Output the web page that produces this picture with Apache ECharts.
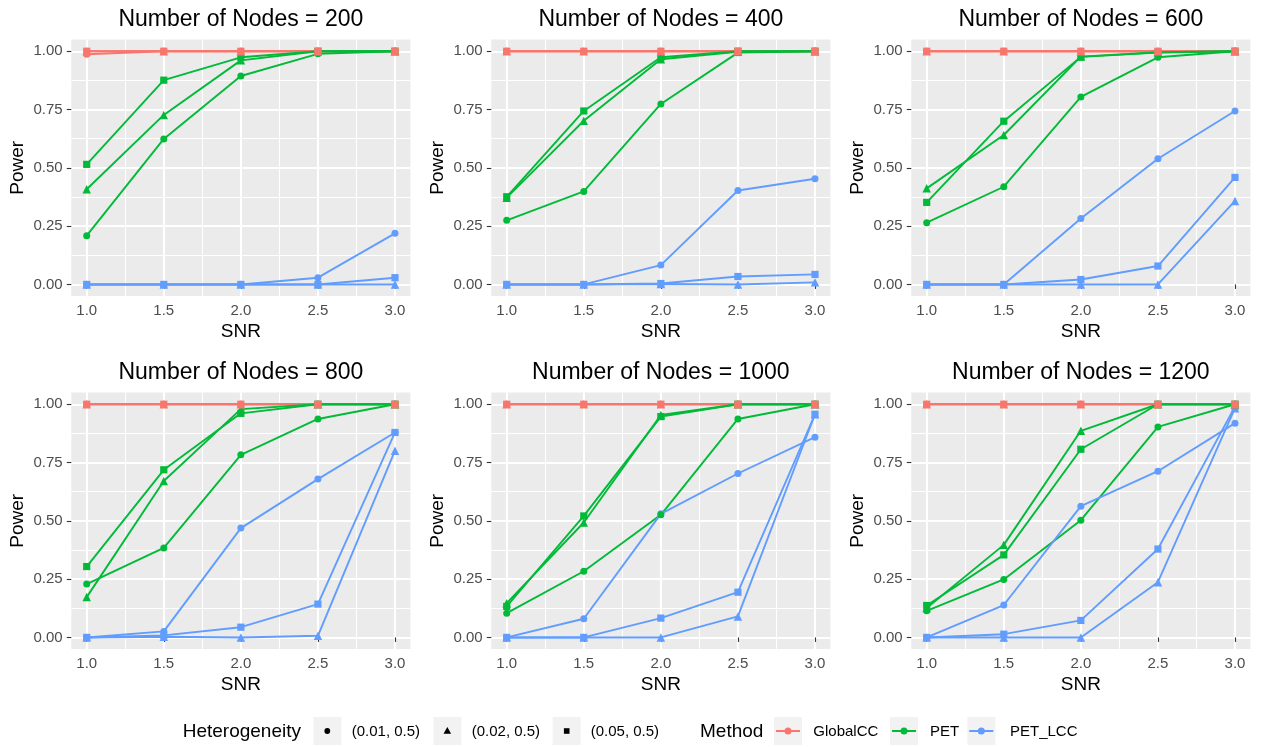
<!DOCTYPE html>
<html>
<head>
<meta charset="utf-8">
<script src="https://cdn.jsdelivr.net/npm/echarts@6/dist/echarts.min.js"></script>
<style>
  html, body { margin: 0; padding: 0; background: #ffffff; }
  #chart { width: 1264px; height: 747px; }
</style>
</head>
<body>
<div id="chart"></div>
<script>
// Simulation results: power of each method against signal-to-noise ratio,
// one panel per network size, one line per heterogeneity setting.
const snr = [1.0, 1.5, 2.0, 2.5, 3.0];
const nodeCounts = [200, 400, 600, 800, 1000, 1200];
const methods = ['GlobalCC', 'PET', 'PET_LCC'];
const heterogeneity = ['(0.01, 0.5)', '(0.02, 0.5)', '(0.05, 0.5)'];
const xTicks = [1.0, 1.5, 2.0, 2.5, 3.0];
const xMinorTicks = [1.25, 1.75, 2.25, 2.75];
const yTicks = [0, 0.25, 0.5, 0.75, 1.0];
const yMinorTicks = [0.125, 0.375, 0.625, 0.875];

// Rows follow the heterogeneity order above; columns follow snr.
const globalCC200 = [[0.987, 1, 1, 1, 1], [1, 1, 1, 1, 1], [1, 1, 1, 1, 1]];
const pet200      = [[0.209, 0.624, 0.894, 0.989, 1], [0.408, 0.727, 0.961, 1, 1], [0.515, 0.876, 0.974, 1, 1]];
const petLcc200   = [[0, 0, 0, 0.029, 0.219], [0, 0, 0, 0, 0], [0, 0, 0, 0, 0.029]];

const globalCC400 = [[1, 1, 1, 1, 1], [1, 1, 1, 1, 1], [1, 1, 1, 1, 1]];
const pet400      = [[0.275, 0.399, 0.774, 0.994, 1], [0.372, 0.702, 0.966, 0.998, 1], [0.376, 0.744, 0.974, 1, 1]];
const petLcc400   = [[0, 0, 0.083, 0.403, 0.453], [0, 0, 0.002, 0, 0.009], [0, 0, 0.004, 0.034, 0.043]];

const globalCC600 = [[1, 1, 1, 1, 1], [1, 1, 1, 1, 1], [1, 1, 1, 1, 1]];
const pet600      = [[0.265, 0.419, 0.804, 0.974, 1], [0.412, 0.641, 0.977, 0.996, 1], [0.352, 0.700, 0.976, 0.994, 1]];
const petLcc600   = [[0, 0, 0.283, 0.539, 0.744], [0, 0, 0, 0, 0.358], [0, 0, 0.021, 0.079, 0.459]];

const globalCC800 = [[1, 1, 1, 1, 1], [1, 1, 1, 1, 1], [1, 1, 1, 1, 1]];
const pet800      = [[0.229, 0.384, 0.783, 0.937, 1], [0.173, 0.671, 0.979, 1, 1], [0.304, 0.719, 0.961, 1, 1]];
const petLcc800   = [[0, 0.026, 0.469, 0.679, 0.879], [0, 0.003, 0, 0.007, 0.801], [0, 0.009, 0.044, 0.143, 0.879]];

const globalCC1000 = [[1, 1, 1, 1, 1], [1, 1, 1, 1, 1], [1, 1, 1, 1, 1]];
const pet1000      = [[0.104, 0.284, 0.526, 0.937, 1], [0.147, 0.493, 0.954, 1, 1], [0.133, 0.521, 0.947, 1, 1]];
const petLcc1000   = [[0, 0.080, 0.530, 0.703, 0.859], [0, 0, 0, 0.090, 0.957], [0, 0, 0.083, 0.194, 0.957]];

const globalCC1200 = [[1, 1, 1, 1, 1], [1, 1, 1, 1, 1], [1, 1, 1, 1, 1]];
const pet1200      = [[0.114, 0.249, 0.503, 0.903, 1], [0.126, 0.397, 0.886, 1, 1], [0.137, 0.354, 0.807, 1, 1]];
const petLcc1200   = [[0, 0.139, 0.563, 0.713, 0.919], [0, 0, 0, 0.237, 0.983], [0, 0.014, 0.073, 0.379, 0.990]];

// Panel order matches nodeCounts; method order matches methods.
const panelData = [
  [globalCC200, pet200, petLcc200],
  [globalCC400, pet400, petLcc400],
  [globalCC600, pet600, petLcc600],
  [globalCC800, pet800, petLcc800],
  [globalCC1000, pet1000, petLcc1000],
  [globalCC1200, pet1200, petLcc1200]
];

// ---- styling ----
const FONT = '"Liberation Sans", Arial, Helvetica, sans-serif';
const methodColors = ['#F8766D', '#00BA38', '#619CFF'];
const shapeSymbols = ['circle', 'triangle', 'rect'];
const shapeSizes = [7, 8.5, 7.2];
const colLeft = [71.3, 491.3, 911.3];
const rowTop = [39.6, 392.6];
const panelW = 339.1;
const panelH = 256.5;

const grids = [], xAxes = [], yAxes = [], series = [], graphics = [];

nodeCounts.forEach((n, p) => {
  const left = colLeft[p % 3];
  const top = rowTop[Math.floor(p / 3)];
  grids.push({
    left, top, width: panelW, height: panelH,
    show: true, backgroundColor: '#EBEBEB', borderWidth: 0,
    containLabel: false, outerBoundsMode: 'none'
  });

  // major x axis
  xAxes.push({
    type: 'value', gridIndex: p, min: 0.9, max: 3.1,
    name: 'SNR', nameLocation: 'middle', nameGap: 26, nameMoveOverlap: false,
    nameTextStyle: { fontFamily: FONT, fontSize: 19, color: '#000000' },
    axisLine: { show: false },
    axisTick: { show: true, length: 4.5, customValues: xTicks, lineStyle: { color: '#333333', width: 1.1 } },
    axisLabel: { show: true, customValues: xTicks, margin: 7, fontFamily: FONT, fontSize: 15, color: '#4D4D4D',
                 formatter: v => Number(v).toFixed(1) },
    splitLine: { show: true, lineStyle: { color: '#FFFFFF', width: 2.1 } }
  });
  // minor x grid
  xAxes.push({
    type: 'value', gridIndex: p, min: 0.9, max: 3.1,
    axisLine: { show: false },
    axisTick: { show: false, customValues: xMinorTicks },
    axisLabel: { show: false },
    splitLine: { show: true, lineStyle: { color: '#FFFFFF', width: 1.05 } }
  });
  // major y axis
  yAxes.push({
    type: 'value', gridIndex: p, min: -0.05, max: 1.05, position: 'left',
    name: 'Power', nameLocation: 'middle', nameGap: 44, nameMoveOverlap: false,
    nameTextStyle: { fontFamily: FONT, fontSize: 19, color: '#000000' },
    axisLine: { show: false },
    axisTick: { show: true, length: 4.5, customValues: yTicks, lineStyle: { color: '#333333', width: 1.1 } },
    axisLabel: { show: true, customValues: yTicks, margin: 8.6, fontFamily: FONT, fontSize: 15, color: '#4D4D4D',
                 formatter: v => Number(v).toFixed(2) },
    splitLine: { show: true, lineStyle: { color: '#FFFFFF', width: 2.1 } }
  });
  // minor y grid
  yAxes.push({
    type: 'value', gridIndex: p, min: -0.05, max: 1.05, position: 'left',
    axisLine: { show: false },
    axisTick: { show: false, customValues: yMinorTicks },
    axisLabel: { show: false },
    splitLine: { show: true, lineStyle: { color: '#FFFFFF', width: 1.05 } }
  });

  // panel strip title
  graphics.push({
    type: 'text', x: left + panelW / 2, y: top - 20, silent: true,
    style: { text: 'Number of Nodes = ' + n, font: '23px ' + FONT, fill: '#000000',
             align: 'center', verticalAlign: 'middle' }
  });

  const xi = 2 * p, yi = 2 * p;
  // connecting lines first, GlobalCC at the bottom
  methods.forEach((m, mi) => {
    panelData[p][mi].forEach((row, h) => {
      series.push({
        type: 'line', name: m + ' ' + heterogeneity[h],
        xAxisIndex: xi, yAxisIndex: yi,
        data: snr.map((s, i) => [s, row[i]]),
        showSymbol: false, symbol: 'none', silent: true, z: 3,
        lineStyle: { color: methodColors[mi], width: 1.9 },
        itemStyle: { color: methodColors[mi] }
      });
    });
  });
  // points on top, GlobalCC last
  [2, 1, 0].forEach(mi => {
    panelData[p][mi].forEach((row, h) => {
      series.push({
        type: 'scatter', name: methods[mi] + ' ' + heterogeneity[h],
        xAxisIndex: xi, yAxisIndex: yi,
        data: snr.map((s, i) => [s, row[i]]),
        symbol: shapeSymbols[h], symbolSize: shapeSizes[h], silent: true,
        z: mi === 0 ? 5 : 4,
        itemStyle: { color: methodColors[mi], opacity: 1 }
      });
    });
  });
});

// ---- legend row ----
const legY = 731;
graphics.push({ type: 'text', x: 182.7, y: legY + 0.5, silent: true,
  style: { text: 'Heterogeneity', font: '19px ' + FONT, fill: '#000000', align: 'left', verticalAlign: 'middle' } });
const shapeKeyX = [313.3, 433.3, 552.7];
const shapeLabelX = [351.7, 471.7, 590.7];
heterogeneity.forEach((lab, h) => {
  const kx = shapeKeyX[h], cx = kx + 14;
  graphics.push({ type: 'rect', silent: true, shape: { x: kx, y: 717, width: 28, height: 28 }, style: { fill: '#F2F2F2' } });
  if (h === 0) {
    graphics.push({ type: 'circle', silent: true, shape: { cx, cy: legY, r: 2.9 }, style: { fill: '#000000' } });
  } else if (h === 1) {
    graphics.push({ type: 'polygon', silent: true,
      shape: { points: [[cx, legY - 3.9], [cx - 3.8, legY + 2.7], [cx + 3.8, legY + 2.7]] }, style: { fill: '#000000' } });
  } else {
    graphics.push({ type: 'rect', silent: true, shape: { x: cx - 2.8, y: legY - 2.8, width: 5.6, height: 5.6 }, style: { fill: '#000000' } });
  }
  graphics.push({ type: 'text', x: shapeLabelX[h], y: legY + 0.5, silent: true,
    style: { text: lab, font: '15px ' + FONT, fill: '#000000', align: 'left', verticalAlign: 'middle' } });
});

graphics.push({ type: 'text', x: 700, y: legY + 0.5, silent: true,
  style: { text: 'Method', font: '19px ' + FONT, fill: '#000000', align: 'left', verticalAlign: 'middle' } });
const methodKeyX = [774, 890, 967.3];
const methodLabelX = [813.3, 930, 1010];
methods.forEach((m, mi) => {
  const kx = methodKeyX[mi], cx = kx + 14;
  graphics.push({ type: 'rect', silent: true, shape: { x: kx, y: 717, width: 28, height: 28 }, style: { fill: '#F2F2F2' } });
  graphics.push({ type: 'line', silent: true, shape: { x1: cx - 12, y1: legY, x2: cx + 12, y2: legY },
    style: { stroke: methodColors[mi], lineWidth: 2 } });
  graphics.push({ type: 'circle', silent: true, shape: { cx, cy: legY, r: 3.5 }, style: { fill: methodColors[mi] } });
  graphics.push({ type: 'text', x: methodLabelX[mi], y: legY + 0.5, silent: true,
    style: { text: m, font: '15px ' + FONT, fill: '#000000', align: 'left', verticalAlign: 'middle' } });
});

const chart = echarts.init(document.getElementById('chart'), null, { renderer: 'canvas' });
chart.setOption({
  animation: false,
  backgroundColor: '#FFFFFF',
  grid: grids,
  xAxis: xAxes,
  yAxis: yAxes,
  series: series,
  graphic: { elements: graphics }
});
</script>
</body>
</html>
